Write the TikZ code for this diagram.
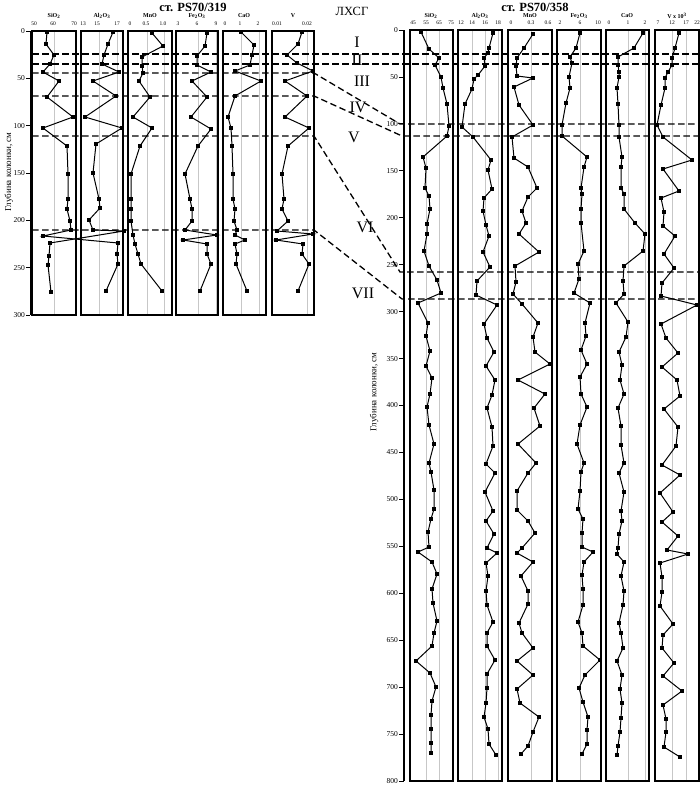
\documentclass[tikz,border=0pt]{standalone}
\usepackage{fontspec}
\setmainfont{Liberation Serif}
\usetikzlibrary{plotmarks}

\begin{document}
\begin{tikzpicture}[x=1pt, y=-1pt,
col/.style={
% the column frame
draw=black, line width=2.4pt},
grd/.style={draw=black!22, line width=0.7pt},
cut/.style={dashed, dash pattern=on 6.5pt off 3.5pt, line width=1.3pt},
prof/.style={line width=1pt, mark=square*, mark size=1.2pt},
tck/.style={font=\fontsize{5.5}{6}\selectfont, inner sep=0pt},
hdr/.style={font=\fontsize{6}{7}\selectfont\bfseries, inner sep=0pt},
dep/.style={font=\fontsize{7.5}{8}\selectfont, inner sep=1pt, anchor=east},
zone/.style={font=\fontsize{16}{18}\selectfont, inner sep=0pt}]

\useasboundingbox (0,0) rectangle (700,785);

% titles
\node (t319) [font=\fontsize{12.5}{14}\selectfont\bfseries] at (193,7) {ст. PS70/319};
\node (lhsg) [font=\fontsize{12.5}{14}\selectfont] at (352,11) {ЛХСГ};
\node (t358) [font=\fontsize{12.5}{14}\selectfont\bfseries] at (535,7) {ст. PS70/358};

% grid lines
\foreach \g in {54,99,117,147,164,198,216,241,259,307}
	\draw[grd] (\g,31) -- (\g,315);
\foreach \g in {426,439,472,485,498,531,580,628,645,672,686}
	\draw[grd] (\g,30) -- (\g,781);

% column headers
\foreach \x/\t [count=\i] in {54/SiO\textsubscript{2}, 102/Al\textsubscript{2}O\textsubscript{3}, 150/MnO, 197/Fe\textsubscript{2}O\textsubscript{3}, 244/CaO, 293/V}
	\node (hl\i) [hdr] at (\x,16) {\t};
\foreach \x/\t [count=\i] in {431/SiO\textsubscript{2}, 480/Al\textsubscript{2}O\textsubscript{3}, 530/MnO, 579/Fe\textsubscript{2}O\textsubscript{3}, 627/CaO, 677/V x 10\textsuperscript{3}}
	\node (hr\i) [hdr] at (\x,16) {\t};

% scale numbers
\foreach \x/\t [count=\i] in {34/50, 53/60, 74/70, 83/13, 97/15, 117/17, 130/0, 146/0.5, 163/1.0, 178/3, 197/6, 216/9, 225/0, 240/1, 258/2, 277/0.01, 307/0.02}
	\node (sl\i) [tck] at (\x,24) {\t};
\foreach \x/\t [count=\i] in {413/45, 426/55, 439/65, 451/75, 461/12, 472/14, 485/16, 498/18, 511/0, 531/0.3, 548/0.6, 560/2, 580/6, 598/10, 609/0, 628/1, 645/2, 658/7, 672/12, 686/17, 697/22}
	\node (sr\i) [tck] at (\x,23) {\t};

% depth axes
\draw[line width=1pt] (30,31) -- (30,315);
\foreach \d in {0,50,...,300}
{
	\draw[line width=0.8pt] (26,{31+0.947*\d}) -- (30,{31+0.947*\d});
	\node (dl\d) [dep] at (26,{31+0.947*\d}) {\d};
}
\draw[line width=1.5pt] (404,30) -- (404,781);
\foreach \d in {0,50,...,800}
{
	\draw[line width=0.8pt] (399,{30+0.93875*\d}) -- (404,{30+0.93875*\d});
	\node (dr\d) [dep] at (399,{30+0.93875*\d}) {\d};
}
\node (al) [font=\fontsize{9}{10}\selectfont, rotate=90] at (9,172) {Глубина колонки, см};
\node (ar) [font=\fontsize{9}{10}\selectfont, rotate=90] at (374,392) {Глубина колонки, см};

% correlation lines
\draw[cut] (32,54) -- (700,54);
\draw[cut] (32,64) -- (700,64);
\draw[cut] (32,73) -- (314,73) -- (400,124) -- (700,124);
\draw[cut] (32,96) -- (314,96) -- (402,136) -- (700,136);
\draw[cut] (32,136) -- (314,136) -- (400,272) -- (700,272);
\draw[cut] (32,230) -- (314,230) -- (402,299) -- (700,299);

% zones
\foreach \x/\y/\t [count=\i] in {357/42/I, 357/60/II, 362/81/III, 358/107/IV, 354/137/V, 365/227/VI, 363/293/VII}
	\node (z\i) [zone] at (\x,\y) {\t};

% PS70/319
\draw[prof] plot coordinates {(47,32) (46,44) (54,55) (50,64) (43,72) (59,81) (47,97) (73,117) (43,128) (67,146) (68,174) (68,199) (67,209) (70,221) (71,230) (43,236) (118,243) (117,254) (118,264) (106,291)};
\draw[prof] plot coordinates {(113,32) (108,44) (104,55) (102,64) (119,72) (93,81) (116,96) (85,117) (122,128) (96,144) (93,173) (99,199) (100,208) (89,220) (93,230) (124,231) (50,243) (49,256) (48,265) (51,292)};
\draw[prof] plot coordinates {(152,33) (163,46) (142,57) (142,66) (143,73) (139,81) (150,97) (133,117) (152,128) (140,146) (131,174) (131,199) (131,209) (131,221) (133,235) (135,244) (138,254) (141,264) (162,291)};
\draw[prof] plot coordinates {(207,33) (205,46) (197,56) (197,65) (211,72) (192,81) (207,97) (191,117) (211,129) (198,146) (185,174) (190,199) (192,209) (192,221) (185,230) (217,235) (183,240) (207,244) (207,254) (211,264) (200,291)};
\draw[prof] plot coordinates {(241,32) (254,45) (252,55) (250,65) (235,71) (261,81) (235,96) (228,117) (231,128) (232,146) (233,174) (233,199) (235,209) (234,221) (237,230) (235,235) (245,240) (235,244) (237,254) (236,264) (247,291)};
\draw[prof] plot coordinates {(302,32) (298,44) (287,55) (297,63) (313,71) (285,81) (307,96) (285,117) (309,128) (288,146) (282,174) (284,199) (282,209) (288,221) (277,231) (313,234) (276,240) (303,244) (302,254) (309,264) (298,291)};

% PS70/358
\draw[prof] plot coordinates {(421,32) (429,49) (439,58) (435,65) (441,77) (443,88) (447,104) (449,126) (447,136) (423,157) (426,168) (425,188) (429,196) (430,209) (427,224) (427,234) (424,251) (429,266) (437,280) (441,293) (418,303) (428,323) (426,336) (430,351) (426,366) (432,378) (430,394) (427,407) (429,425) (434,444) (429,463) (431,472) (434,490) (434,509) (431,519) (428,532) (429,547) (418,552) (432,562) (437,574) (432,589) (433,603) (437,621) (434,633) (432,646) (416,661) (430,673) (436,687) (432,701) (431,715) (431,729) (431,743) (431,753)};
\draw[prof] plot coordinates {(493,33) (489,48) (488,53) (484,58) (485,66) (478,75) (474,79) (472,89) (465,104) (462,127) (473,137) (491,160) (488,170) (492,189) (484,198) (483,211) (486,225) (489,236) (483,252) (490,267) (477,281) (476,295) (497,305) (484,324) (487,338) (494,352) (486,366) (495,380) (492,395) (487,408) (492,427) (493,446) (486,464) (495,473) (485,492) (493,511) (486,521) (494,534) (487,548) (497,553) (486,563) (488,576) (486,591) (487,605) (493,622) (487,633) (487,646) (495,660) (487,674) (487,688) (486,703) (484,717) (488,729) (489,744) (496,755)};
\draw[prof] plot coordinates {(533,34) (524,48) (517,58) (516,66) (517,76) (533,78) (514,87) (519,105) (533,125) (512,137) (514,158) (528,167) (537,188) (528,197) (522,211) (526,223) (519,234) (539,252) (515,266) (516,282) (513,294) (522,304) (538,323) (533,337) (535,352) (550,364) (518,380) (545,394) (534,408) (540,426) (518,444) (536,463) (528,473) (517,491) (517,510) (528,521) (535,533) (522,548) (517,553) (533,562) (521,576) (528,591) (528,604) (519,623) (522,633) (533,648) (517,661) (533,675) (517,689) (520,703) (539,717) (533,732) (528,746) (521,754)};
\draw[prof] plot coordinates {(580,33) (576,48) (570,57) (572,63) (569,77) (570,88) (566,103) (562,125) (562,136) (587,157) (584,167) (581,188) (582,194) (581,209) (581,223) (584,251) (578,264) (579,279) (574,293) (590,303) (585,323) (586,336) (581,350) (587,364) (580,377) (581,394) (587,407) (580,425) (577,444) (584,463) (581,472) (580,491) (578,509) (583,519) (582,533) (582,547) (593,552) (584,562) (582,575) (583,589) (583,605) (578,622) (582,633) (583,646) (600,660) (585,675) (579,688) (583,702) (588,717) (587,730) (587,744) (582,754)};
\draw[prof] plot coordinates {(643,33) (634,48) (618,57) (618,65) (619,72) (619,77) (617,88) (618,104) (619,125) (619,137) (622,157) (621,167) (621,188) (624,194) (624,209) (635,223) (645,234) (643,251) (624,266) (623,281) (624,294) (616,303) (628,322) (626,337) (619,352) (622,365) (620,380) (624,394) (618,408) (621,426) (621,445) (624,463) (619,473) (624,492) (621,511) (622,521) (619,534) (618,548) (617,554) (624,562) (621,576) (624,591) (623,605) (619,623) (621,633) (623,648) (617,661) (622,675) (620,689) (622,703) (621,718) (620,732) (618,746) (617,755)};
\draw[prof] plot coordinates {(679,33) (675,48) (672,58) (672,65) (668,72) (665,78) (665,88) (661,105) (657,125) (663,137) (692,160) (663,169) (679,191) (661,198) (664,212) (663,226) (675,236) (664,254) (674,268) (662,283) (661,296) (697,305) (661,324) (666,338) (678,353) (662,367) (677,380) (680,396) (664,409) (678,427) (676,446) (662,465) (680,475) (660,493) (673,512) (662,522) (678,536) (667,550) (688,554) (660,563) (662,577) (662,592) (660,606) (673,624) (663,635) (662,648) (674,663) (663,676) (682,691) (663,705) (666,719) (666,732) (664,747) (680,757)};

% column frames
\foreach \a/\b in {32/76, 81/123, 128/172, 176/218, 223/266, 272/314}
	\draw[col] (\a,31) rectangle (\b,315);
\foreach \a/\b in {410/453, 458/502, 508/552, 557/601, 606/649, 655/699}
	\draw[col] (\a,30) rectangle (\b,781);
\end{tikzpicture}
\end{document}
